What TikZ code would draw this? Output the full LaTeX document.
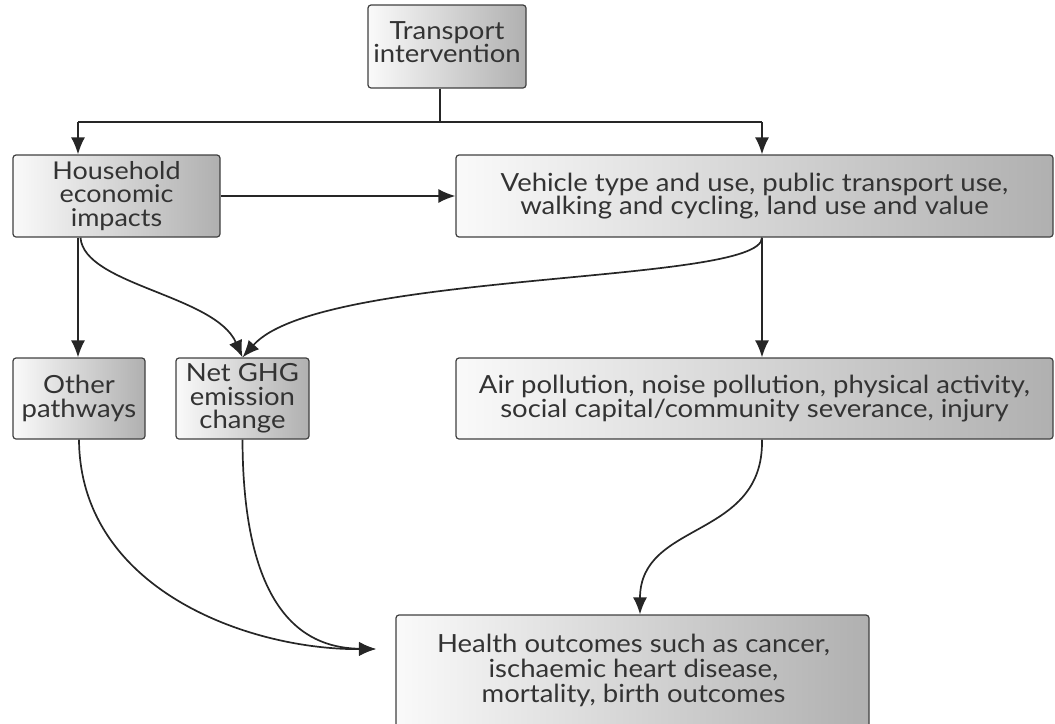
\documentclass[tikz,border=0pt]{standalone}
\usepackage{fontspec}
\setmainfont{Lato}
\newfontfamily\boxfont[FakeStretch=1.1]{Lato}
\usetikzlibrary{arrows.meta}
\begin{document}
\begin{tikzpicture}[x=1pt,y=-1pt,
  box/.style={draw=black!75, line width=1.2pt, rounded corners=3pt,
    left color=gray!4, right color=gray!62, text=black!80,
    align=center, inner sep=0pt, font=\boxfont\fontsize{25}{23.5}\selectfont},
  label/.style={text=black!80, align=center, inner sep=0pt},
  conn/.style={draw=black!85, line width=1.7pt, -{Latex[length=17pt,width=14pt]}},
  seg/.style={draw=black!85, line width=1.7pt}]
\useasboundingbox (0,0) rectangle (1055,723);
\node[box, minimum width=158pt, minimum height=83pt] (ti) at (447,46.5) {};
\node[label, font=\boxfont\fontsize{25}{23.5}\selectfont] (tit) at (447,42) {Transport\\intervention};
\node[box, minimum width=207pt, minimum height=82pt, font=\boxfont\fontsize{24.5}{23.5}\selectfont] (hh) at (116.5,196) {Household\\economic\\impacts};
\node[box, minimum width=597pt, minimum height=82pt] (vt) at (754.5,196) {Vehicle type and use, public transport use,\\walking and cycling, land use and value};
\node[box, minimum width=132pt, minimum height=81pt] (op) at (79,398.5) {Other\\pathways};
\node[box, minimum width=133pt, minimum height=81pt] (gh) at (242.5,398.5) {Net GHG\\emission\\change};
\node[box, minimum width=597pt, minimum height=81pt] (ap) at (754.5,398.5) {Air pollution, noise pollution, physical activity,\\social capital/community severance, injury};
\node[box, minimum width=473pt, minimum height=130pt] (ho) at (632.5,680) {};
\node[label, font=\boxfont\fontsize{25}{25}\selectfont] (hot) at (633.5,670) {Health outcomes such as cancer,\\ischaemic heart disease,\\mortality, birth outcomes};
\coordinate (j) at (440,122);
\coordinate (jl) at (78,122);
\coordinate (jr) at (762,122);
\coordinate (hin) at (376,649);
\draw[seg] (ti.south -| j) -- (j);
\draw[seg] (jl) -- (jr);
\draw[conn] (jl) -- (hh.north -| jl);
\draw[conn] (jr) -- (vt.north -| jr);
\draw[conn] (hh.east) -- (vt.west);
\draw[conn] (hh.south -| jl) -- (op.north -| jl);
\draw[conn] ([xshift=-36pt]hh.south) .. controls (84,285) and (215,295) .. (gh.north);
\draw[conn] (vt.south -| jr) .. controls (762,285) and (320,270) .. (gh.north);
\draw[conn] (vt.south -| jr) -- (ap.north -| jr);
\draw[conn] (op.south) .. controls (80,590) and (250,650) .. (hin);
\draw[conn] (gh.south) .. controls (243,620) and (310,648) .. (hin);
\draw[conn] (ap.south -| jr) .. controls (764,540) and (640,520) .. (ho.north -| 640,0);
\end{tikzpicture}
\end{document}
